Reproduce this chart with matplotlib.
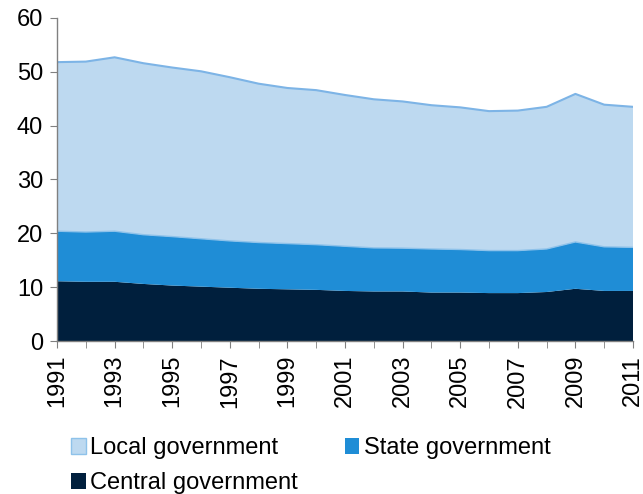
import matplotlib
matplotlib.use("Agg")
import matplotlib.pyplot as plt
from matplotlib.patches import Patch

years = list(range(1991, 2012))
central = [11.1, 11.0, 11.0, 10.6, 10.3, 10.1, 9.9, 9.7, 9.6, 9.5, 9.3, 9.2, 9.2, 9.0, 9.0, 8.9, 8.9, 9.1, 9.7, 9.3, 9.3]
state_top = [20.4, 20.25, 20.4, 19.75, 19.4, 19.0, 18.6, 18.3, 18.1, 17.9, 17.6, 17.3, 17.25, 17.1, 17.0, 16.8, 16.8, 17.1, 18.4, 17.5, 17.4]
total = [51.8, 51.9, 52.7, 51.6, 50.8, 50.1, 49.0, 47.8, 47.0, 46.6, 45.7, 44.9, 44.5, 43.8, 43.4, 42.7, 42.8, 43.5, 45.9, 43.9, 43.5]
state = [s - c for s, c in zip(state_top, central)]
local = [t - s for t, s in zip(total, state_top)]
colors = ["#001F3D", "#1F8DD6", "#BDD9F0"]

plt.rcParams['font.family'] = ['Liberation Sans', 'DejaVu Sans']

fig = plt.figure(figsize=(6.43, 4.94), dpi=100)
ax = fig.add_axes([57/643, 1 - 341/494, (633 - 57)/643, (341 - 18)/494])

ax.stackplot(years, central, state, local, colors=colors, linewidth=0)
ax.plot(years, state_top, color="#8EC2EA", lw=1.0)
ax.plot(years, total, color="#7DB4E6", lw=1.5)

ax.set_xlim(1991, 2011)
ax.set_ylim(0, 60)
ax.set_yticks(range(0, 61, 10))
ax.set_xticks(range(1991, 2012, 2))
ax.set_xticks(years, minor=True)
ax.set_xticklabels([str(y) for y in range(1991, 2012, 2)], rotation=90)
for s in ["top", "right"]:
    ax.spines[s].set_visible(False)
for s in ["left", "bottom"]:
    ax.spines[s].set_color("#808080")
    ax.spines[s].set_linewidth(1.0)
ax.tick_params(axis="both", which="both", colors="#808080", labelcolor="black", labelsize=17, direction="out")
ax.tick_params(axis="x", which="both", length=5, pad=5)
ax.tick_params(axis="y", length=5, pad=5)

handles = [Patch(facecolor=colors[2], edgecolor="#8EC2EA"),
           Patch(facecolor=colors[0]),
           Patch(facecolor=colors[1])]
leg_labels = ["Local government", "Central government", "State government"]
fig.legend(handles, leg_labels, ncol=2, loc="upper left", bbox_to_anchor=(62/643, 1 - 428/494),
           frameon=False, fontsize=17, handlelength=0.6, handleheight=0.7, handletextpad=0.2,
           columnspacing=2.0, labelspacing=0.55, borderaxespad=0)

fig.savefig("out.png", dpi=100)
